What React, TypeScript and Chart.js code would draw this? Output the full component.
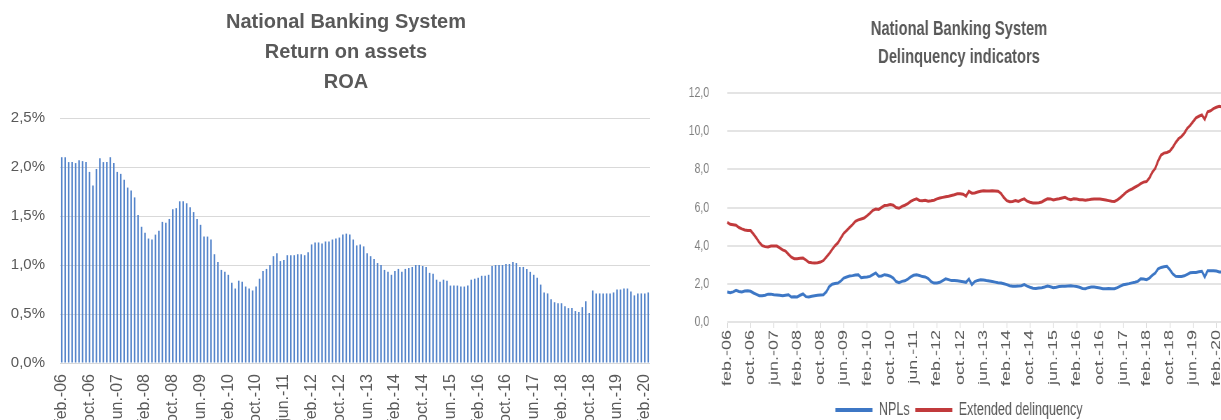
import React, { useEffect, useRef } from 'react';
import { Chart, registerables } from 'chart.js';

Chart.register(...registerables);

// ---------- data ----------
const MONTH_ABBR = ['jan.', 'feb.', 'mar.', 'apr.', 'may.', 'jun.', 'jul.', 'aug.', 'sep.', 'oct.', 'nov.', 'dec.'];
const START_YEAR = 2006;
const START_MONTH = 1; // feb.
const TICK_EVERY = 8; // a label every 8 months

// ROA, %, monthly feb.-06 .. mar.-20
const roaValues = [
  2.10, 2.10, 2.05, 2.05, 2.04, 2.07, 2.06, 2.05, 1.95, 1.81, 1.98, 2.09, 2.05, 2.05, 2.10, 2.04, 1.95, 1.93, 1.87, 1.79,
  1.76, 1.69, 1.51, 1.39, 1.33, 1.27, 1.26, 1.31, 1.35, 1.44, 1.43, 1.47, 1.57, 1.58, 1.65, 1.65, 1.63, 1.59, 1.54, 1.47,
  1.41, 1.29, 1.29, 1.26, 1.11, 1.03, 0.95, 0.93, 0.90, 0.82, 0.76, 0.84, 0.83, 0.78, 0.76, 0.74, 0.78, 0.86, 0.94, 0.96,
  1.00, 1.09, 1.12, 1.04, 1.05, 1.10, 1.10, 1.10, 1.11, 1.11, 1.10, 1.13, 1.21, 1.23, 1.23, 1.22, 1.24, 1.24, 1.26, 1.27,
  1.28, 1.31, 1.32, 1.31, 1.26, 1.20, 1.21, 1.19, 1.12, 1.09, 1.06, 1.02, 1.00, 0.95, 0.93, 0.90, 0.94, 0.96, 0.93, 0.96,
  0.97, 0.98, 1.00, 1.00, 0.99, 0.98, 0.92, 0.91, 0.85, 0.83, 0.85, 0.84, 0.79, 0.79, 0.79, 0.78, 0.78, 0.79, 0.85, 0.86,
  0.87, 0.89, 0.89, 0.90, 0.99, 1.00, 1.00, 1.00, 1.01, 1.01, 1.03, 1.02, 0.98, 0.98, 0.96, 0.93, 0.90, 0.87, 0.80, 0.72,
  0.71, 0.65, 0.62, 0.61, 0.61, 0.58, 0.56, 0.56, 0.53, 0.52, 0.57, 0.63, 0.51, 0.74, 0.71, 0.71, 0.71, 0.71, 0.71, 0.72,
  0.75, 0.75, 0.76, 0.76, 0.73, 0.69, 0.71, 0.71, 0.71, 0.72,
];

// NPLs, %, monthly feb.-06 .. apr.-20
const nplValues = [
  1.57, 1.53, 1.58, 1.66, 1.60, 1.57, 1.62, 1.64, 1.61, 1.52,
  1.45, 1.38, 1.38, 1.40, 1.46, 1.46, 1.43, 1.42, 1.40, 1.37,
  1.40, 1.43, 1.31, 1.32, 1.31, 1.40, 1.47, 1.33, 1.31, 1.35,
  1.38, 1.40, 1.42, 1.43, 1.58, 1.85, 1.98, 2.02, 2.04, 2.15,
  2.30, 2.36, 2.41, 2.43, 2.46, 2.48, 2.32, 2.34, 2.36, 2.39,
  2.48, 2.57, 2.40, 2.41, 2.48, 2.45, 2.40, 2.30, 2.12, 2.06,
  2.13, 2.16, 2.25, 2.36, 2.45, 2.48, 2.44, 2.38, 2.36, 2.28,
  2.12, 2.04, 2.04, 2.08, 2.17, 2.26, 2.22, 2.17, 2.17, 2.16,
  2.14, 2.11, 2.08, 2.25, 1.96, 2.12, 2.18, 2.21, 2.20, 2.17,
  2.15, 2.12, 2.09, 2.06, 2.04, 2.00, 1.96, 1.90, 1.87, 1.87,
  1.88, 1.90, 1.96, 1.88, 1.82, 1.77, 1.76, 1.78, 1.80, 1.83,
  1.88, 1.85, 1.80, 1.82, 1.86, 1.87, 1.87, 1.89, 1.90, 1.88,
  1.86, 1.82, 1.76, 1.74, 1.80, 1.83, 1.83, 1.81, 1.78, 1.74,
  1.74, 1.75, 1.74, 1.74, 1.80, 1.88, 1.95, 1.98, 2.01, 2.05,
  2.08, 2.13, 2.26, 2.25, 2.22, 2.30, 2.45, 2.57, 2.79, 2.86,
  2.90, 2.92, 2.74, 2.52, 2.40, 2.39, 2.39, 2.42, 2.50, 2.58,
  2.60, 2.60, 2.63, 2.66, 2.36, 2.69, 2.69, 2.69, 2.67, 2.62, 2.62,
];

// Extended delinquency, %, monthly feb.-06 .. apr.-20
const extendedValues = [
  5.22, 5.12, 5.10, 5.07, 4.95, 4.88, 4.82, 4.80, 4.79, 4.60,
  4.40, 4.17, 4.00, 3.95, 3.93, 3.98, 3.98, 3.98, 3.88, 3.78,
  3.72, 3.55, 3.40, 3.32, 3.32, 3.34, 3.35, 3.25, 3.13, 3.10,
  3.09, 3.10, 3.14, 3.22, 3.40, 3.58, 3.80, 4.00, 4.15, 4.40,
  4.65, 4.80, 4.95, 5.10, 5.28, 5.35, 5.40, 5.45, 5.57, 5.70,
  5.85, 5.92, 5.90, 6.01, 6.10, 6.12, 6.15, 6.12, 6.00, 5.96,
  6.06, 6.12, 6.20, 6.32, 6.40, 6.45, 6.37, 6.36, 6.38, 6.33,
  6.35, 6.38, 6.45, 6.50, 6.53, 6.56, 6.59, 6.63, 6.67, 6.72,
  6.72, 6.70, 6.60, 6.85, 6.75, 6.76, 6.81, 6.85, 6.88, 6.86,
  6.86, 6.88, 6.87, 6.85, 6.74, 6.52, 6.36, 6.30, 6.32, 6.36,
  6.32, 6.40, 6.45, 6.33, 6.28, 6.24, 6.24, 6.25, 6.29, 6.38,
  6.46, 6.45, 6.40, 6.43, 6.46, 6.50, 6.53, 6.45, 6.41, 6.46,
  6.44, 6.41, 6.40, 6.38, 6.40, 6.43, 6.45, 6.45, 6.45, 6.42,
  6.39, 6.36, 6.33, 6.32, 6.40, 6.52, 6.65, 6.80, 6.90, 6.97,
  7.06, 7.14, 7.25, 7.33, 7.36, 7.55, 7.85, 8.05, 8.45, 8.75,
  8.85, 8.88, 8.95, 9.15, 9.40, 9.60, 9.72, 9.90, 10.15, 10.30,
  10.50, 10.70, 10.78, 10.85, 10.62, 11.02, 11.07, 11.18, 11.25, 11.30, 11.27,
];

const roaTitle = ['National Banking System', 'Return on assets', 'ROA'];
const delinqTitle = ['National Banking System', 'Delinquency indicators'];
const seriesNames = ['NPLs', 'Extended delinquency'];

// ---------- helpers ----------
const FONT = "'Liberation Sans', Arial, sans-serif";

function monthLabels(n: number): string[] {
  const out: string[] = [];
  for (let i = 0; i < n; i++) {
    const m = START_MONTH + i;
    const y = START_YEAR + Math.floor(m / 12);
    out.push(MONTH_ABBR[m % 12] + '-' + String(y % 100).padStart(2, '0'));
  }
  return out;
}

const everyNth = (scale: any) => {
  scale.ticks = scale.ticks.filter((t: any) => t.value % TICK_EVERY === 0);
};

function RoaChart() {
  const ref = useRef<HTMLCanvasElement>(null);
  useEffect(() => {
    const chart = new Chart(ref.current!, {
      type: 'bar',
      data: {
        labels: monthLabels(roaValues.length),
        datasets: [
          {
            data: roaValues,
            backgroundColor: '#5585cb',
            barPercentage: 0.5,
            categoryPercentage: 0.9,
          },
        ],
      },
      options: {
        responsive: false,
        animation: false,
        devicePixelRatio: 1,
        layout: { padding: { left: 8, right: 8, top: 0, bottom: 0 } },
        plugins: {
          legend: { display: false },
          tooltip: { enabled: false },
          title: {
            display: true,
            text: roaTitle,
            color: '#595959',
            font: { family: FONT, size: 20, weight: 'bold', lineHeight: 1.5 },
            padding: { top: 7, bottom: 21 },
          },
        },
        scales: {
          x: {
            grid: { display: false, drawTicks: false },
            border: { display: false },
            afterBuildTicks: everyNth,
            afterFit: (s: any) => { s.height = 57; },
            ticks: {
              autoSkip: false,
              maxRotation: 90,
              minRotation: 90,
              padding: 11,
              color: '#595959',
              font: { family: FONT, size: 16 },
            },
          },
          y: {
            min: 0,
            max: 2.5,
            grid: { color: '#d9d9d9', drawTicks: false },
            border: { display: false },
            afterFit: (s: any) => { s.width = 52; },
            ticks: {
              stepSize: 0.5,
              padding: 15,
              color: '#595959',
              font: { family: FONT, size: 15 },
              callback: (v: any) => Number(v).toFixed(1).replace('.', ',') + '%',
            },
          },
          spacer: {
            type: 'linear',
            position: 'right',
            display: true,
            grid: { display: false, drawTicks: false },
            border: { display: false },
            ticks: { display: false },
            afterFit: (s: any) => { s.width = 34; },
          },
        },
      },
    } as any);
    return () => chart.destroy();
  }, []);
  return <canvas ref={ref} width={692} height={420} style={{ position: 'absolute', left: 0, top: 0 }} />;
}

const SQUEEZE = 0.7;

function DelinquencyChart() {
  const ref = useRef<HTMLCanvasElement>(null);
  useEffect(() => {
    const chart = new Chart(ref.current!, {
      type: 'line',
      data: {
        labels: monthLabels(nplValues.length),
        datasets: [
          {
            label: seriesNames[0],
            data: nplValues,
            borderColor: '#3d77c5',
            backgroundColor: '#3d77c5',
            borderWidth: 3,
            pointRadius: 0,
            tension: 0,
          },
          {
            label: seriesNames[1],
            data: extendedValues,
            borderColor: '#c13a3c',
            backgroundColor: '#c13a3c',
            borderWidth: 3,
            pointRadius: 0,
            tension: 0,
          },
        ],
      },
      options: {
        responsive: false,
        animation: false,
        devicePixelRatio: 1,
        layout: { padding: { left: 31, right: 31, top: 0, bottom: 0 } },
        plugins: {
          tooltip: { enabled: false },
          title: {
            display: true,
            text: delinqTitle,
            color: '#595959',
            font: { family: FONT, size: 21, weight: 'bold', lineHeight: 28 / 21 },
            padding: { top: 15, bottom: 22 },
          },
          legend: {
            position: 'bottom',
            labels: {
              boxWidth: 53,
              boxHeight: 4,
              padding: 8,
              color: '#595959',
              font: { family: FONT, size: 18 },
              generateLabels: (c: any) =>
                (Chart.defaults.plugins.legend.labels.generateLabels as any)(c).map((l: any) => ({ ...l, lineWidth: 0 })),
            },
          },
        },
        scales: {
          x: {
            grid: { drawOnChartArea: false, drawTicks: true, tickLength: 6, color: '#d0d0d0' },
            border: { display: false },
            afterBuildTicks: everyNth,
            afterFit: (s: any) => { s.height = 71; },
            ticks: {
              autoSkip: false,
              maxRotation: 90,
              minRotation: 90,
              padding: 2,
              color: '#595959',
              font: { family: FONT, size: 18 },
            },
          },
          y: {
            min: 0,
            max: 12,
            grid: { color: '#e4e4e4', lineWidth: 2, drawTicks: false },
            border: { display: false },
            afterFit: (s: any) => { s.width = 58; },
            ticks: {
              stepSize: 2,
              padding: 26,
              color: '#7f7f7f',
              font: { family: FONT, size: 15 },
              callback: (v: any) => Number(v).toFixed(1).replace('.', ','),
            },
          },
          spacer: {
            type: 'linear',
            position: 'right',
            display: true,
            grid: { display: false, drawTicks: false },
            border: { display: false },
            ticks: { display: false },
            afterFit: (s: any) => { s.width = 13; },
          },
        },
      },
    } as any);
    return () => chart.destroy();
  }, []);
  return (
    <div
      style={{
        position: 'absolute',
        left: 665,
        top: 0,
        width: 840,
        height: 429,
        transform: `scaleX(${SQUEEZE})`,
        transformOrigin: '0 0',
      }}
    >
      <canvas ref={ref} width={840} height={429} />
    </div>
  );
}

export default function App() {
  return (
    <div
      style={{
        position: 'fixed',
        left: 0,
        top: 0,
        width: 1221,
        height: 420,
        overflow: 'hidden',
        background: '#ffffff',
      }}
    >
      <RoaChart />
      <DelinquencyChart />
    </div>
  );
}
